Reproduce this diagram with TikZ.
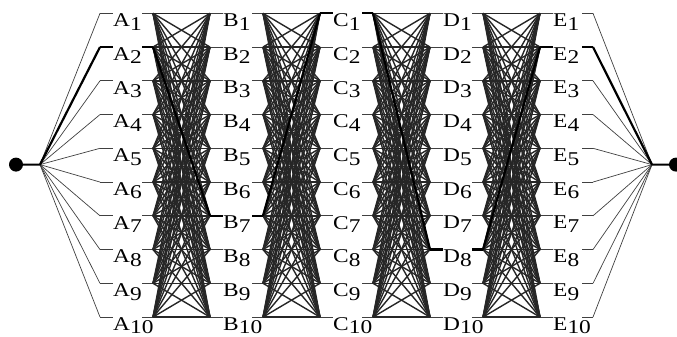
\documentclass[tikz,border=0pt]{standalone}
\usepackage{fontspec}
\setmainfont{Liberation Serif}
\usetikzlibrary{calc}

\tikzset{
  wire/.style={line width=0.7pt, black!75},
  meshwire/.style={line width=1.4pt, black!85},
  boldwire/.style={line width=2.2pt, black, line join=round},
  lbl/.style={anchor=north west, inner sep=0pt, xscale=1.2, font=\fontsize{19.5}{20}\selectfont},
  hubdot/.style={circle, fill=black, inner sep=0pt, minimum size=14pt},
}

\begin{document}
\begin{tikzpicture}[x=1pt, y=-1pt]
    \useasboundingbox (0,0) rectangle (677,337);

    % end points and hubs
    \node[hubdot] (start) at (16,164.6) {};
    \node[hubdot] (goal) at (676,164.6) {};
    \coordinate (lhub) at (40,164.6);
    \coordinate (rhub) at (652,164.6);

    % stage columns A..E with ten states each
    \foreach \c [count=\k from 0] in {A,B,C,D,E} {
        \foreach \i in {1,...,10} {
            \pgfmathsetmacro\yy{13.3+33.75*(\i-1)}
            \coordinate (\c\i-in) at (100+110*\k,\yy);
            \coordinate (\c\i-out) at (153+110*\k,\yy);
            \node[lbl] (\c\i) at (113+110*\k,\yy+0.2) {\c\raisebox{-3.6pt}{\i}};
            \draw[wire] (\c\i-in) -- (\c\i.west |- \c\i-in);
            \draw[wire] (\c\i-out) -- ++(-11,0);
        }
    }

    % fans to the hubs
    \foreach \i in {1,...,10} {
        \draw[wire] (lhub) -- (A\i-in);
        \draw[wire] (E\i-out) -- (rhub);
    }

    % full connections between neighbouring stages
    \foreach \p/\q in {A/B,B/C,C/D,D/E} {
        \foreach \i in {1,...,10} {
            \foreach \j in {1,...,10} {
                \draw[meshwire] (\p\i-out) -- (\q\j-in);
            }
        }
    }

    % highlighted path
    \draw[boldwire] (start.center) -- (lhub) -- (A2-in);
    \foreach \s in {A2,B7,C1,D8,E2} {
        \draw[boldwire] (\s-in) -- (\s.west |- \s-in);
        \draw[boldwire] (\s-out) -- ++(-11,0);
    }
    \draw[boldwire] (A2-out) -- (B7-in);
    \draw[boldwire] (B7-out) -- (C1-in);
    \draw[boldwire] (C1-out) -- (D8-in);
    \draw[boldwire] (D8-out) -- (E2-in);
    \draw[boldwire] (E2-out) -- (rhub) -- (goal.center);
\end{tikzpicture}
\end{document}
